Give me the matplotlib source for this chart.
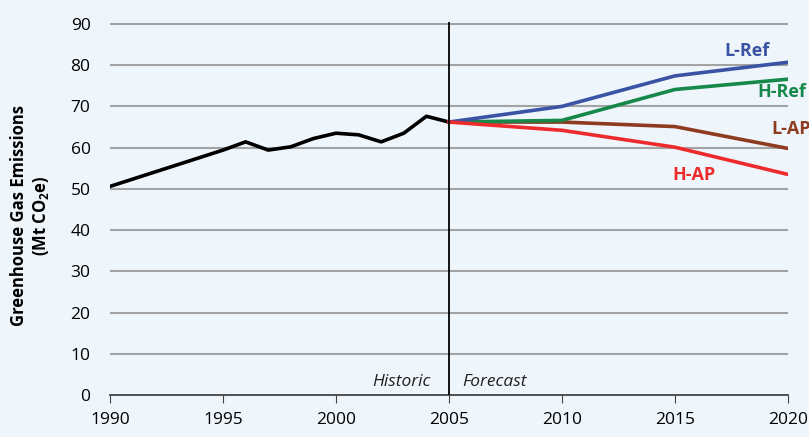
import numpy as np
from matplotlib import pyplot as plt

plt.rcParams['font.family'] = ['Open Sans', 'DejaVu Sans']
plt.rcParams['mathtext.fontset'] = 'custom'
plt.rcParams['mathtext.bf'] = 'Open Sans:bold'
plt.rcParams['mathtext.rm'] = 'Open Sans'

# historic emissions (Mt CO2e)
hist_years = [1990, 1995, 1996, 1997, 1998, 1999, 2000, 2001, 2002, 2003, 2004, 2005]
hist_vals = [50.6, 59.4, 61.4, 59.4, 60.2, 62.2, 63.5, 63.1, 61.4, 63.5, 67.6, 66.2]

# forecast scenarios
fc_years = [2005, 2010, 2015, 2020]
l_ref = [66.2, 70.0, 77.4, 80.7]
h_ref = [66.2, 66.6, 74.1, 76.6]
l_ap = [66.2, 66.2, 65.1, 59.8]
h_ap = [66.2, 64.2, 60.1, 53.5]

bg = '#EEF5FB'
fig = plt.figure(figsize=(8.09, 4.37), dpi=100, facecolor=bg)
ax = fig.add_axes([0.136, 0.096, 0.838, 0.854], facecolor=bg)

for y in range(10, 100, 10):
    ax.axhline(y, color='#A3A3A3', lw=1.5, zorder=1)

ax.plot(hist_years, hist_vals, color='black', lw=2.6, zorder=3)
ax.plot(fc_years, l_ap, color='#8E3B1F', lw=2.6, zorder=3)
ax.plot(fc_years, h_ref, color='#15884A', lw=2.6, zorder=4)
ax.plot(fc_years, l_ref, color='#3A53A4', lw=2.6, zorder=4)
ax.plot(fc_years, h_ap, color='#EE2B2C', lw=2.6, zorder=5)

ax.axvline(2005, color='black', lw=1.3, zorder=6)

lab = dict(fontweight='bold', fontsize=13)
ax.text(2019.2, 81.3, 'L-Ref', color='#3A53A4', ha='right', va='bottom', **lab)
ax.text(2020.8, 71.3, 'H-Ref', color='#15884A', ha='right', va='bottom', **lab)
ax.text(2021.0, 62.4, 'L-AP', color='#8E3B1F', ha='right', va='bottom', **lab)
ax.text(2016.8, 51.3, 'H-AP', color='#EE2B2C', ha='right', va='bottom', **lab)

ax.text(2004.2, 2.3, 'Historic', style='italic', fontsize=12.5, color='#231F20', ha='right')
ax.text(2005.6, 2.3, 'Forecast', style='italic', fontsize=12.5, color='#231F20', ha='left')

ax.set_xlim(1990, 2020)
ax.set_ylim(0, 90.5)
ax.set_xticks(range(1990, 2021, 5))
ax.set_yticks(range(0, 91, 10))
for s in ['top', 'right', 'left']:
    ax.spines[s].set_visible(False)
ax.spines['bottom'].set_color('#444444')
ax.spines['bottom'].set_linewidth(1.3)
ax.tick_params(axis='x', direction='out', length=6, color='#444444', labelsize=12.5, pad=6)
ax.tick_params(axis='y', length=0, labelsize=12.5, pad=14)
ax.set_ylabel('Greenhouse Gas Emissions\n(Mt CO$_\\mathbf{2}$e)', fontweight='bold',
              fontsize=12, labelpad=8, linespacing=1.2)
ax.yaxis.set_label_coords(-0.087, 0.48)

fig.savefig('out.png', dpi=100, facecolor=bg)
